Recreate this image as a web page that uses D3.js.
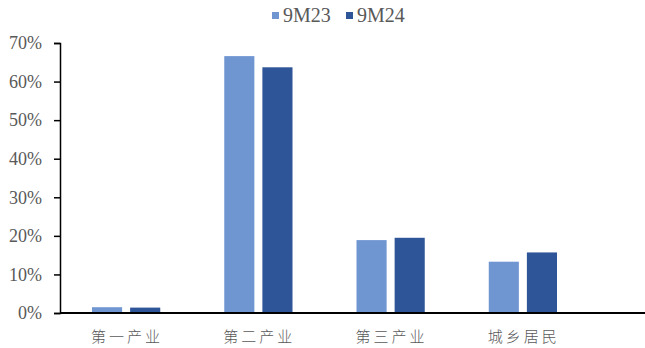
<!DOCTYPE html>
<html>
<head>
<meta charset="utf-8">
<script src="https://cdn.jsdelivr.net/npm/d3@7"></script>
<style>
  body { margin: 0; background: #fff; }
  svg { display: block; }
</style>
</head>
<body>
<svg width="645" height="348"></svg>
<script>
// data
const categories = ["第一产业", "第二产业", "第三产业", "城乡居民"];
const seriesNames = ["9M23", "9M24"];
const v9M23 = [1.5, 66.6, 18.9, 13.3];
const v9M24 = [1.4, 63.7, 19.5, 15.7];
const yTicks = [0, 10, 20, 30, 40, 50, 60, 70];

const colors = {"9M23": "#7096D2", "9M24": "#2E5597"};

const rows = categories.map((c, i) => ({cat: c, "9M23": v9M23[i], "9M24": v9M24[i]}));

const svg = d3.select("svg");
const plotL = 60, plotR = 589, plotT = 43, plotB = 313;

const x = d3.scaleBand().domain(categories).range([plotL, plotR]);
const xInner = d3.scaleBand().domain(seriesNames)
  .range([32, x.bandwidth() - 32]).paddingInner(0.21);
const y = d3.scaleLinear().domain([0, 70]).range([plotB, plotT]);

// bars
const groups = svg.append("g").selectAll("g")
  .data(rows)
  .enter()
  .append("g")
  .attr("transform", d => `translate(${x(d.cat)},0)`);

groups.selectAll("rect")
  .data(d => seriesNames.map(s => ({s: s, v: d[s]})))
  .enter()
  .append("rect")
  .attr("x", d => xInner(d.s))
  .attr("width", xInner.bandwidth())
  .attr("y", d => y(d.v))
  .attr("height", d => plotB - y(d.v))
  .attr("fill", d => colors[d.s]);

// y axis
const yAxis = svg.append("g")
  .attr("transform", `translate(${plotL},0)`)
  .call(d3.axisLeft(y).tickValues(yTicks).tickFormat(d => d + "%").tickSize(6).tickPadding(12));
yAxis.select(".domain").attr("stroke", "#000").attr("stroke-width", 1.5);
yAxis.selectAll(".tick line").attr("stroke", "#000").attr("stroke-width", 1.5);
yAxis.selectAll(".tick text")
  .attr("fill", "#595959")
  .style("font-family", "'Liberation Serif', 'Times New Roman', serif")
  .style("font-size", "18px");

// x axis line runs to the right edge
svg.append("line")
  .attr("x1", plotL).attr("x2", 645)
  .attr("y1", plotB).attr("y2", plotB)
  .attr("stroke", "#000").attr("stroke-width", 2);

// category labels
svg.append("g").selectAll("text")
  .data(categories)
  .enter()
  .append("text")
  .attr("x", d => x(d) + x.bandwidth() / 2 + 1)
  .attr("y", 342)
  .attr("text-anchor", "middle")
  .attr("fill", "#595959")
  .style("font-family", "'Noto Sans CJK SC', sans-serif")
  .style("font-size", "15px")
  .style("font-weight", 300)
  .style("letter-spacing", "3px")
  .text(d => d);

// legend
const legend = svg.append("g").selectAll("g")
  .data(seriesNames)
  .enter()
  .append("g")
  .attr("transform", (d, i) => `translate(${272 + i * 74},0)`);
legend.append("rect")
  .attr("x", 0).attr("y", 12)
  .attr("width", 7).attr("height", 7)
  .attr("fill", d => colors[d]);
legend.append("text")
  .attr("x", 11).attr("y", 22)
  .attr("fill", "#595959")
  .style("font-family", "'Liberation Serif', 'Times New Roman', serif")
  .style("font-size", "20px")
  .text(d => d);
</script>
</body>
</html>
